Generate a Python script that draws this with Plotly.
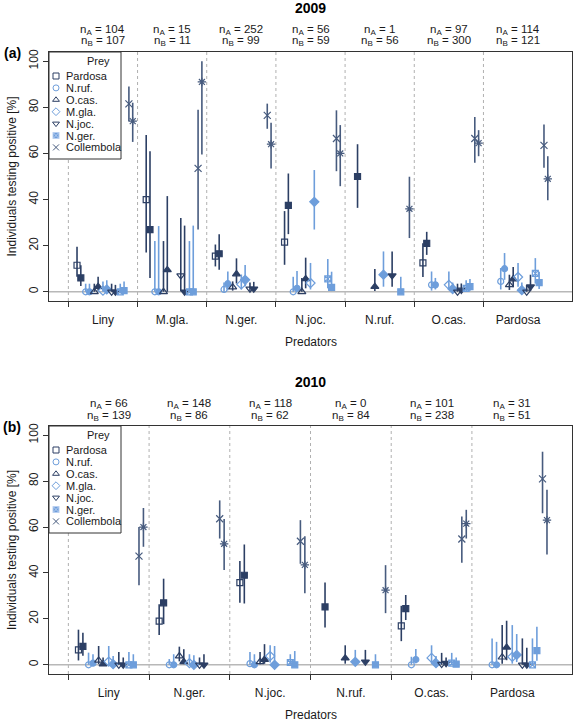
import plotly.graph_objects as go

# ---------------- data ----------------
PREY = ["Pardosa", "N.ruf.", "O.cas.", "M.gla.", "N.joc.", "N.ger.", "Collembola"]

pred09 = ["Liny", "M.gla.", "N.ger.", "N.joc.", "N.ruf.", "O.cas.", "Pardosa"]
nA09 = [104, 15, 252, 56, 1, 97, 114]
nB09 = [107, 11, 99, 59, 56, 300, 121]

val09A = {
    "Pardosa":    [11.5, 40, 15.5, 21.5, None, 12.5, None],
    "N.ruf.":     [0, 0, 1, 0, None, 3, 4.5],
    "O.cas.":     [0, 0, 2, 0, None, None, 3],
    "M.gla.":     [0.5, None, 3.2, 3.8, None, 3, 6.4],
    "N.joc.":     [0, 7, 1.3, None, None, 0, 0],
    "N.ger.":     [0, 0, None, 5.6, None, 1.5, 8],
    "Collembola": [81.5, 53.5, 76.5, 66.5, None, 66.5, 63.5],
}
lo09A = {
    "Pardosa":    [6.5, 17, 11, 11.7, None, 6.4, None],
    "N.ruf.":     [0, 0, 0, 0, None, 0.5, 1],
    "O.cas.":     [0, 0, 0.5, 0, None, None, 0.8],
    "M.gla.":     [0, None, 1, 1, None, 1, 2.2],
    "N.joc.":     [0, 0.2, 0, None, None, 0, 0],
    "N.ger.":     [0, 0, None, 1.5, None, 0.3, 3.6],
    "Collembola": [74, 27, 70.7, 52.3, None, 56, 53.8],
}
hi09A = {
    "Pardosa":    [19.5, 68, 20.5, 35, None, 21, None],
    "N.ruf.":     [3.5, 22, 4, 6.5, None, 8.8, 10.3],
    "O.cas.":     [3.5, 22, 4.5, 6, None, None, 7.4],
    "M.gla.":     [4.5, None, 7.5, 12.5, None, 8.8, 12.5],
    "N.joc.":     [3.5, 32, 4, None, None, 3.5, 3],
    "N.ger.":     [3.5, 22, None, 14.2, None, 5, 14.6],
    "Collembola": [89, 79, 81.6, 78.7, None, 75.8, 72.6],
}
val09B = {
    "Pardosa":    [6, 27, 16.5, 37.5, 50, 21, None],
    "N.ruf.":     [0, 0, 3.5, 1.5, None, 3, 10],
    "O.cas.":     [2.2, 9.5, 7.7, 5.6, 2.2, None, 5.5],
    "M.gla.":     [1, None, 5.2, 39, 7.4, 1.2, 0.7],
    "N.joc.":     [0, 0, 1.3, None, 7, 0.8, 2.2],
    "N.ger.":     [0.5, 0, None, 1.9, 0, 2.2, 4],
    "Collembola": [74, 91, 64, 60, 36, 64.5, 49],
}
lo09B = {
    "Pardosa":    [2.5, 6, 9.6, 25, 36.4, 16, None],
    "N.ruf.":     [0, 0, 0.7, 0.2, None, 1, 5.2],
    "O.cas.":     [0.5, 0, 3.6, 1.5, 0.3, None, 2],
    "M.gla.":     [0.2, None, 2.3, 27, 2.2, 0.3, 0],
    "N.joc.":     [0, 0, 0.2, None, 2.2, 0.1, 0.4],
    "N.ger.":     [0, 0, None, 0.3, 0, 0.5, 1.2],
    "Collembola": [65, 59.5, 53.5, 45.8, 23.3, 58.8, 39.7],
}
hi09B = {
    "Pardosa":    [11.5, 61, 25, 51.3, 64, 26, None],
    "N.ruf.":     [3.5, 28.5, 8.8, 9, None, 6, 16.8],
    "O.cas.":     [6.5, 41.5, 14.5, 14.8, 9.9, None, 10.7],
    "M.gla.":     [5, None, 11.6, 52.8, 17.5, 4, 4],
    "N.joc.":     [3, 28.7, 4.3, None, 17.5, 3.6, 7.4],
    "N.ger.":     [4.5, 28.7, None, 8.7, 6.5, 5.5, 8.7],
    "Collembola": [82, 100, 73.3, 72.3, 49.9, 70.1, 58.8],
}

pred10 = ["Liny", "N.ger.", "N.joc.", "N.ruf.", "O.cas.", "Pardosa"]
nA10 = [66, 148, 118, 0, 101, 31]
nB10 = [139, 86, 62, 84, 238, 51]

val10A = {
    "Pardosa":    [6.5, 19, 35.8, None, 17, None],
    "N.ruf.":     [0, 0, 0.5, None, 0, 0],
    "O.cas.":     [1.9, 3.8, 1.3, None, None, 3.3],
    "M.gla.":     [1.4, 0.7, 3.8, None, 3, 3.5],
    "N.joc.":     [0, 0, None, None, 0.3, 0],
    "N.ger.":     [0, None, 1, None, 0.7, 0],
    "Collembola": [47.3, 63.6, 53.8, None, 54.8, 81],
}
lo10A = {
    "Pardosa":    [1.9, 13, 27, None, 10.3, None],
    "N.ruf.":     [0, 0, 0, None, 0, 0],
    "O.cas.":     [0.3, 1.5, 0.2, None, None, 0.5],
    "M.gla.":     [0.2, 0, 1, None, 0.8, 0.5],
    "N.joc.":     [0, 0, None, None, 0, 0],
    "N.ger.":     [0, None, 0, None, 0, 0],
    "Collembola": [34.6, 55, 44, None, 44.4, 66],
}
hi10A = {
    "Pardosa":    [15.3, 26.4, 45.2, None, 25.7, None],
    "N.ruf.":     [5.3, 2.5, 5.6, None, 3.5, 11.5],
    "O.cas.":     [8.2, 7.9, 5.6, None, None, 17.3],
    "M.gla.":     [8.2, 4.6, 8.5, None, 8.5, 17.3],
    "N.joc.":     [5.6, 3.2, None, None, 5.2, 11.5],
    "N.ger.":     [5.6, None, 4.6, None, 5.2, 11.5],
    "Collembola": [60, 71.6, 63, None, 64.6, 92.8],
}
val10B = {
    "Pardosa":    [8, 27, 39, 25.2, 24.5, None],
    "N.ruf.":     [0.7, 0, 0, None, 2.3, 0],
    "O.cas.":     [0.3, 1.3, 2.3, 2.9, None, 7.6],
    "M.gla.":     [0.3, 0, 0, 1.3, 0.7, 4.3],
    "N.joc.":     [0, 0, None, 1.3, 0.7, 0],
    "N.ger.":     [0, None, 0, 0, 0.3, 6.2],
    "Collembola": [60, 52.7, 43.5, 32.5, 61.5, 63],
}
lo10B = {
    "Pardosa":    [4, 17.7, 26.7, 16.3, 19.5, None],
    "N.ruf.":     [0, 0, 0, None, 0.7, 0],
    "O.cas.":     [0, 0.3, 0.5, 0.5, None, 2],
    "M.gla.":     [0, 0, 0, 0.2, 0, 1.2],
    "N.joc.":     [0, 0, None, 0.2, 0, 0],
    "N.ger.":     [0, None, 0, 0, 0, 1.8],
    "Collembola": [51.4, 41.3, 31.2, 22.5, 55, 48],
}
hi10B = {
    "Pardosa":    [14, 37.5, 52.4, 35.8, 30.4, None],
    "N.ruf.":     [4.6, 4.6, 4.6, None, 6.9, 10],
    "O.cas.":     [3.2, 6.8, 9, 8.5, None, 19.2],
    "M.gla.":     [3.8, 4.2, 8.2, 6.5, 3.8, 13.4],
    "N.joc.":     [3.2, 4.6, None, 6.5, 3.2, 7.4],
    "N.ger.":     [4.6, None, 6, 4.6, 3.2, 16.6],
    "Collembola": [68.3, 63.5, 56, 43.4, 67.5, 76.2],
}

# ---------------- styling ----------------
DARK = "#2C3F64"
LIGHT = "#6E9EDB"
SLATE = "#475B7E"
COL = {"Pardosa": DARK, "N.ruf.": LIGHT, "O.cas.": DARK, "M.gla.": LIGHT,
       "N.joc.": DARK, "N.ger.": LIGHT, "Collembola": SLATE}
SYM = {"Pardosa": ("square-open", "square"),
       "N.ruf.": ("circle-open", "circle"),
       "O.cas.": ("triangle-up-open", "triangle-up"),
       "M.gla.": ("diamond-open", "diamond"),
       "N.joc.": ("triangle-down-open", "triangle-down"),
       "N.ger.": ("square-x-open", "square"),
       "Collembola": ("x-thin-open", "asterisk-open")}
SIZE = {"Pardosa": 6, "N.ruf.": 6, "O.cas.": 7, "M.gla.": 7, "N.joc.": 7,
        "N.ger.": 6, "Collembola": 7}

W, H = 574, 724
L, R = 49, 572
FONT = "Liberation Sans, Arial, Helvetica, sans-serif"
TXT = "#1a1a1a"
AX = "#333333"


def px2x(px):
    return (px - L) / (R - L)


def py2y(py):
    return 1 - py / H


PANELS = [
    dict(top=52, bot=301, preds=pred09, nA=nA09, nB=nB09, title="2009", tag="(a)",
         A=(val09A, lo09A, hi09A), B=(val09B, lo09B, hi09B), xa="x", ya="y"),
    dict(top=426, bot=674, preds=pred10, nA=nA10, nB=nB10, title="2010", tag="(b)",
         A=(val10A, lo10A, hi10A), B=(val10B, lo10B, hi10B), xa="x2", ya="y2"),
]

fig = go.Figure()
shapes = []
annotations = []
layout_axes = {}

for k, P in enumerate(PANELS):
    n = len(P["preds"])
    xa, ya = P["xa"], P["ya"]
    # data traces
    for j, prey in enumerate(PREY):
        for b, (vals, los, his) in enumerate([P["A"], P["B"]]):
            xs, ys, ep, em = [], [], [], []
            for i in range(n):
                v = vals[prey][i]
                if v is None:
                    continue
                xs.append(i + (j + 1) / 8 + 0.055 * b)
                ys.append(v)
                ep.append(his[prey][i] - v)
                em.append(v - los[prey][i])
            fig.add_trace(go.Scatter(
                x=xs, y=ys, mode="markers", xaxis=xa, yaxis=ya, showlegend=False,
                cliponaxis=False,
                marker=dict(symbol=SYM[prey][b], size=SIZE[prey], color=COL[prey],
                            line=dict(color=COL[prey], width=1.2)),
                error_y=dict(type="data", symmetric=False, array=ep, arrayminus=em,
                             thickness=1.6, width=0, color=COL[prey]),
            ))
    # axes
    dom = [py2y(P["bot"]), py2y(P["top"])]
    suffix = "" if k == 0 else "2"
    layout_axes["xaxis" + suffix] = dict(
        domain=[0, 1], range=[-0.04 * n, n * 1.04], anchor="y" + suffix,
        tickmode="array", tickvals=[i + 0.5 for i in range(n)], ticktext=P["preds"],
        ticks="outside", ticklen=8, tickcolor="rgba(0,0,0,0)",
        minor=dict(tickmode="array", tickvals=list(range(n)), ticks="outside",
                   ticklen=5, tickwidth=1, tickcolor=AX),
        showline=True, mirror=True, linecolor=AX, linewidth=1,
        showgrid=False, zeroline=False, fixedrange=True,
        tickfont=dict(size=12, color=TXT, family=FONT))
    layout_axes["yaxis" + suffix] = dict(
        domain=dom, range=[-4, 104], anchor="x" + suffix,
        tickmode="array", tickvals=[0, 20, 40, 60, 80, 100],
        ticks="outside", ticklen=5, tickwidth=1, tickcolor=AX, tickangle=-90,
        showline=True, mirror=True, linecolor=AX, linewidth=1,
        showgrid=False, zeroline=False, fixedrange=True,
        tickfont=dict(size=12, color=TXT, family=FONT))
    # dashed separators
    for i in range(n):
        shapes.append(dict(type="line", xref=xa, yref=ya + " domain", x0=i, x1=i, y0=0, y1=1,
                           line=dict(color="#b0b0b0", width=1, dash="3px,3px"), layer="below"))
    # zero line
    shapes.append(dict(type="line", xref=xa + " domain", yref=ya, x0=0, x1=1, y0=0, y1=0,
                       line=dict(color="#b8b8b8", width=1.5), layer="below"))
    # legend box (same subplot layer, drawn after the dashed lines so it covers them)
    top, bot = P["top"], P["bot"]
    shapes.append(dict(type="rect", xref=xa + " domain", yref=ya + " domain",
                       x0=0, x1=(121 - L) / (R - L), y0=1 - 107 / (bot - top), y1=1,
                       line=dict(color=AX, width=1), fillcolor="white", layer="below"))
    # n labels
    for i in range(n):
        annotations.append(dict(xref=xa, yref="paper", x=i + 0.5, y=py2y(top - 22),
                                text="n<sub>A</sub> = %d" % P["nA"][i], showarrow=False,
                                font=dict(size=11.5, color=TXT, family=FONT), yanchor="middle"))
        annotations.append(dict(xref=xa, yref="paper", x=i + 0.5, y=py2y(top - 10.5),
                                text="n<sub>B</sub> = %d" % P["nB"][i], showarrow=False,
                                font=dict(size=11.5, color=TXT, family=FONT), yanchor="middle"))
    # title
    annotations.append(dict(xref="paper", yref="paper", x=0.5, y=py2y(top - 44),
                            text="<b>%s</b>" % P["title"], showarrow=False,
                            font=dict(size=14, color="#000", family=FONT), yanchor="middle"))
    # panel tag
    annotations.append(dict(xref="paper", yref="paper", x=px2x(12), y=py2y(top + 1),
                            text="<b>%s</b>" % P["tag"], showarrow=False,
                            font=dict(size=14, color="#000", family=FONT),
                            xanchor="center", yanchor="middle"))
    # axis titles
    annotations.append(dict(xref="paper", yref="paper", x=0.5, y=py2y(bot + 41),
                            text="Predators", showarrow=False,
                            font=dict(size=12, color=TXT, family=FONT), yanchor="middle"))
    annotations.append(dict(xref="paper", yref="paper", x=px2x(12),
                            y=py2y((top + bot) / 2),
                            text="Individuals testing positive [%]", showarrow=False, textangle=-90,
                            font=dict(size=12, color=TXT, family=FONT),
                            xanchor="center", yanchor="middle"))
    # legend contents
    annotations.append(dict(xref="paper", yref="paper", x=px2x(85), y=py2y(top + 9),
                            text="Prey", showarrow=False,
                            font=dict(size=11, color=TXT, family=FONT), yanchor="middle"))
    lx, ly, lsym, lcol = [], [], [], []
    for j, prey in enumerate(PREY):
        yy = top + 24 + 11.9 * j
        annotations.append(dict(xref="paper", yref="paper", x=px2x(64), y=py2y(yy),
                                text=prey, showarrow=False, xanchor="left", yanchor="middle",
                                font=dict(size=11, color=TXT, family=FONT)))
        lx.append(56)
        ly.append(yy)
        lsym.append("square-x" if prey == "N.ger." else SYM[prey][0])
        lcol.append(COL[prey])
    fig.add_trace(go.Scatter(
        x=lx, y=ly, mode="markers", xaxis="x3", yaxis="y3", showlegend=False,
        hoverinfo="skip", cliponaxis=False,
        marker=dict(symbol=lsym, size=6, color=lcol,
                    line=dict(color=[("#b9cff0" if s == "square-x" else c) for s, c in zip(lsym, lcol)],
                              width=1))))

layout_axes["xaxis3"] = dict(domain=[0, 1], range=[L, R], anchor="y3", visible=False,
                             fixedrange=True)
layout_axes["yaxis3"] = dict(domain=[0, 1], range=[H, 0], anchor="x3", visible=False,
                             fixedrange=True)

fig.update_layout(
    width=W, height=H,
    margin=dict(l=L, r=W - R, t=0, b=0, autoexpand=False),
    paper_bgcolor="white", plot_bgcolor="rgba(0,0,0,0)",
    font=dict(family=FONT, size=12, color=TXT),
    shapes=shapes, annotations=annotations, showlegend=False,
    **layout_axes,
)

fig.write_html("out.html", config={"displayModeBar": False},
               post_script="document.body.style.margin='0px';document.body.style.overflow='hidden';")
